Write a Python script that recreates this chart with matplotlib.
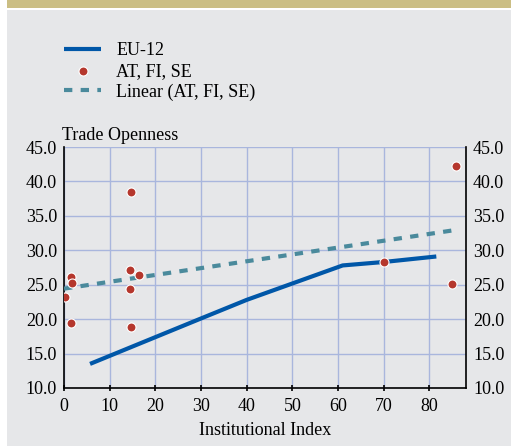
import matplotlib.pyplot as plt
import matplotlib.patches as patches
import numpy as np

# EU-12 curve
eu_x = [5.7, 30, 40, 61, 70, 81.5]
eu_y = [13.5, 20.1, 22.8, 27.8, 28.3, 29.1]

# AT, FI, SE observations
pts_x = [14.7, 14.5, 16.5, 14.5, 14.7, 1.5, 1.7, 0.3, 1.5, 85.9, 70.1, 85.0]
pts_y = [38.5, 27.2, 26.4, 24.4, 18.8, 26.1, 25.3, 23.2, 19.5, 42.3, 28.25, 25.1]

x_ticks = [0, 10, 20, 30, 40, 50, 60, 70, 80]
y_ticks = [10, 15, 20, 25, 30, 35, 40, 45]

plt.rcParams["font.family"] = ["Liberation Serif", "DejaVu Serif"]

bg = "#e6e7e9"
fs = 13
fig = plt.figure(figsize=(5.11, 4.46), dpi=100, facecolor="white")

# decorative frame: tan band at top, grey panel below
fig.add_artist(patches.Rectangle((7 / 511, 438 / 446), 1, 8 / 446,
                                 transform=fig.transFigure, facecolor="#cbbe84",
                                 edgecolor="none", zorder=0))
fig.add_artist(patches.Rectangle((7 / 511, 0), 1, 436 / 446,
                                 transform=fig.transFigure, facecolor=bg,
                                 edgecolor="none", zorder=0))

ax = fig.add_axes([64 / 511, (446 - 388) / 446, (466 - 64) / 511, (388 - 147) / 446])
ax.set_facecolor(bg)

ax.plot(eu_x, eu_y, color="#0057a8", lw=3, solid_capstyle="butt",
        label="EU-12", zorder=4)
ax.scatter(pts_x, pts_y, s=42, color="#b5372d", edgecolors="white",
           linewidths=0.8, label="AT, FI, SE", zorder=5)

coef = np.polyfit(pts_x, pts_y, 1)
fx = np.array([0, max(pts_x)])
ax.plot(fx, np.polyval(coef, fx), color="#4a8a9c", lw=3, ls=(0, (2, 2)),
        label="Linear (AT, FI, SE)", zorder=3)

ax.set_xlim(0, 88)
ax.set_ylim(10, 45)
ax.set_xticks(x_ticks)
ax.set_yticks(y_ticks)
ax.set_yticklabels([f"{v:.1f}" for v in y_ticks])
ax.grid(True, color="#a9b6dd", lw=1, zorder=1)
ax.set_axisbelow(True)

for s in ["left", "right", "bottom"]:
    ax.spines[s].set_color("black")
    ax.spines[s].set_linewidth(1.2)
ax.spines["top"].set_visible(False)

ax.tick_params(axis="y", length=0, labelsize=fs, labelright=True, pad=5)
ax.tick_params(axis="x", length=4, width=1.2, direction="inout",
               labelsize=fs, pad=5.5)
ax.set_xlabel("Institutional Index", fontsize=fs, labelpad=5)
ax.text(-0.005, 1.012, "Trade Openness", transform=ax.transAxes,
        fontsize=fs, ha="left", va="bottom")

ax.legend(loc="upper left", bbox_to_anchor=(0, 1 + 105 / 241),
          frameon=False, fontsize=fs, handlelength=2.05, handletextpad=0.85,
          labelspacing=0.2, borderpad=0, borderaxespad=0)

fig.savefig("out.png", dpi=100, facecolor="white")
